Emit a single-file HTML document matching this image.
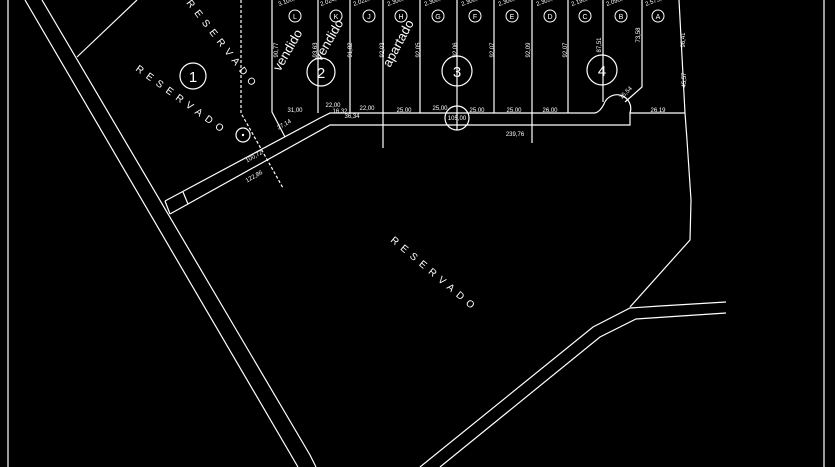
<!DOCTYPE html>
<html><head><meta charset="utf-8"><style>
html,body{margin:0;padding:0;background:#000;}
svg{display:block}
text{fill:#fff;font-family:"Liberation Sans",sans-serif}
.s{font-size:6px}
.r{font-size:10px;letter-spacing:5.5px}
</style></head><body>
<svg width="835" height="467" viewBox="0 0 835 467" xmlns="http://www.w3.org/2000/svg">
<g stroke="#fff" stroke-width="1.2" fill="none">
<line x1="8" y1="0" x2="8" y2="467"/>
<line x1="824" y1="0" x2="824" y2="467"/>
<line x1="25" y1="0" x2="298" y2="467"/>
<polyline points="42,0 310,455 316,467"/>
<line x1="77" y1="57" x2="137" y2="0"/>
<polyline points="241,0 241,113 283,188" stroke-dasharray="3,2"/>
<circle cx="243" cy="135" r="7"/>
<polyline points="165,201 320,118 330,113 595,113"/>
<polyline points="170,214 330,125 630,125 630,113 685,113"/>
<line x1="165" y1="201" x2="170" y2="214"/>
<line x1="183" y1="192" x2="188" y2="204"/>
<path d="M595,113 Q600,112 604,104 A13,13 0 0 1 630,113"/>
<polyline points="679,0 685,113 687,140 691,200 690,240 630,307"/>
<polyline points="420,467 593,327 630,308 660,306 726,302"/>
<polyline points="440,467 600,337 636,319 726,313"/>
<polyline points="272,0 272,112 285,137"/>
<line x1="318" y1="0" x2="318" y2="113"/>
<line x1="350" y1="0" x2="350" y2="113"/>
<line x1="383" y1="0" x2="383" y2="148"/>
<line x1="420" y1="0" x2="420" y2="113"/>
<line x1="457" y1="0" x2="457" y2="130"/>
<line x1="494" y1="0" x2="494" y2="113"/>
<line x1="532" y1="0" x2="532" y2="143"/>
<line x1="568" y1="0" x2="568" y2="113"/>
<line x1="603" y1="0" x2="603" y2="102"/>
<polyline points="642,0 642,87 625,102"/>
<circle cx="193" cy="76" r="13"/>
<circle cx="321" cy="72" r="14"/>
<circle cx="457" cy="71" r="15"/>
<circle cx="602" cy="70" r="15"/>
<circle cx="457" cy="118" r="12"/>
</g>
<g stroke="#fff" stroke-width="1" fill="none">
<circle cx="295" cy="16" r="6"/><circle cx="336" cy="16" r="6"/><circle cx="369" cy="16" r="6"/>
<circle cx="401" cy="16" r="6"/><circle cx="438" cy="16" r="6"/><circle cx="475" cy="16" r="6"/>
<circle cx="512" cy="16" r="6"/><circle cx="550" cy="16" r="6"/><circle cx="585" cy="16" r="6"/>
<circle cx="621" cy="16" r="6"/><circle cx="658" cy="16" r="6"/>
</g>
<circle cx="243" cy="135" r="1.2" fill="#fff"/>
<g font-size="7" text-anchor="middle">
<text x="295" y="19">L</text><text x="336" y="19">K</text><text x="369" y="19">J</text><text x="401" y="19">H</text>
<text x="438" y="19">G</text><text x="475" y="19">F</text><text x="512" y="19">E</text><text x="550" y="19">D</text>
<text x="585" y="19">C</text><text x="621" y="19">B</text><text x="658" y="19">A</text>
</g>
<g class="s">
<text x="279" y="6" transform="rotate(-20 279 6)">3.106,00</text>
<text x="321" y="6" transform="rotate(-20 321 6)">2.024,00</text>
<text x="354" y="6" transform="rotate(-20 354 6)">2.022,00</text>
<text x="388" y="6" transform="rotate(-20 388 6)">2.300,00</text>
<text x="425" y="6" transform="rotate(-20 425 6)">2.300,00</text>
<text x="462" y="6" transform="rotate(-20 462 6)">2.300,00</text>
<text x="499" y="6" transform="rotate(-20 499 6)">2.300,00</text>
<text x="537" y="6" transform="rotate(-20 537 6)">2.309,00</text>
<text x="572" y="6" transform="rotate(-20 572 6)">2.198,00</text>
<text x="607" y="6" transform="rotate(-20 607 6)">2.098,00</text>
<text x="646" y="6" transform="rotate(-20 646 6)">2.573,00</text>
</g>
<g font-size="15" text-anchor="middle">
<text x="193" y="82">1</text><text x="321" y="78">2</text><text x="457" y="77">3</text><text x="602" y="76">4</text>
</g>
<g class="s" text-anchor="middle">
<text x="457" y="120">105,00</text>
<text x="295" y="112">31,00</text><text x="333" y="107">22,00</text><text x="340" y="113">16,32</text>
<text x="367" y="110">22,00</text><text x="404" y="112">25,00</text><text x="440" y="110">25,00</text>
<text x="477" y="112">25,00</text><text x="514" y="112">25,00</text><text x="550" y="112">26,00</text>
<text x="658" y="112">26,19</text><text x="352" y="118">36,34</text><text x="515" y="136">239,76</text>
<text x="255" y="158" transform="rotate(-30 255 158)">100,72</text>
<text x="255" y="178" transform="rotate(-30 255 178)">122,86</text>
<text x="285" y="126" transform="rotate(-30 285 126)">27,14</text>
<text x="627" y="94" transform="rotate(-45 627 94)">15,54</text>
</g>
<g class="s" text-anchor="middle">
<text transform="translate(278,50) rotate(-90)">90,77</text>
<text transform="translate(317,50) rotate(-90)">93,63</text>
<text transform="translate(352,50) rotate(-90)">91,82</text>
<text transform="translate(384,50) rotate(-90)">92,03</text>
<text transform="translate(420,50) rotate(-90)">92,05</text>
<text transform="translate(457,50) rotate(-90)">92,06</text>
<text transform="translate(494,50) rotate(-90)">92,07</text>
<text transform="translate(530,50) rotate(-90)">92,09</text>
<text transform="translate(567,50) rotate(-90)">92,07</text>
<text transform="translate(601,45) rotate(-90)">87,51</text>
<text transform="translate(640,35) rotate(-90)">73,58</text>
<text transform="translate(685,40) rotate(-90)">96,41</text>
<text transform="translate(686,80) rotate(-90)">45,57</text>
</g>
<g font-size="13">
<text transform="translate(280,72) rotate(-60)">vendido</text>
<text transform="translate(321,62) rotate(-60)">vendido</text>
<text transform="translate(390,68) rotate(-62)">apartado</text>
</g>
<g class="r">
<text transform="translate(186,3) rotate(52)">RESERVADO</text>
<text transform="translate(135,70) rotate(36)">RESERVADO</text>
<text transform="translate(390,241) rotate(40)">RESERVADO</text>
</g>
</svg>
</body></html>
